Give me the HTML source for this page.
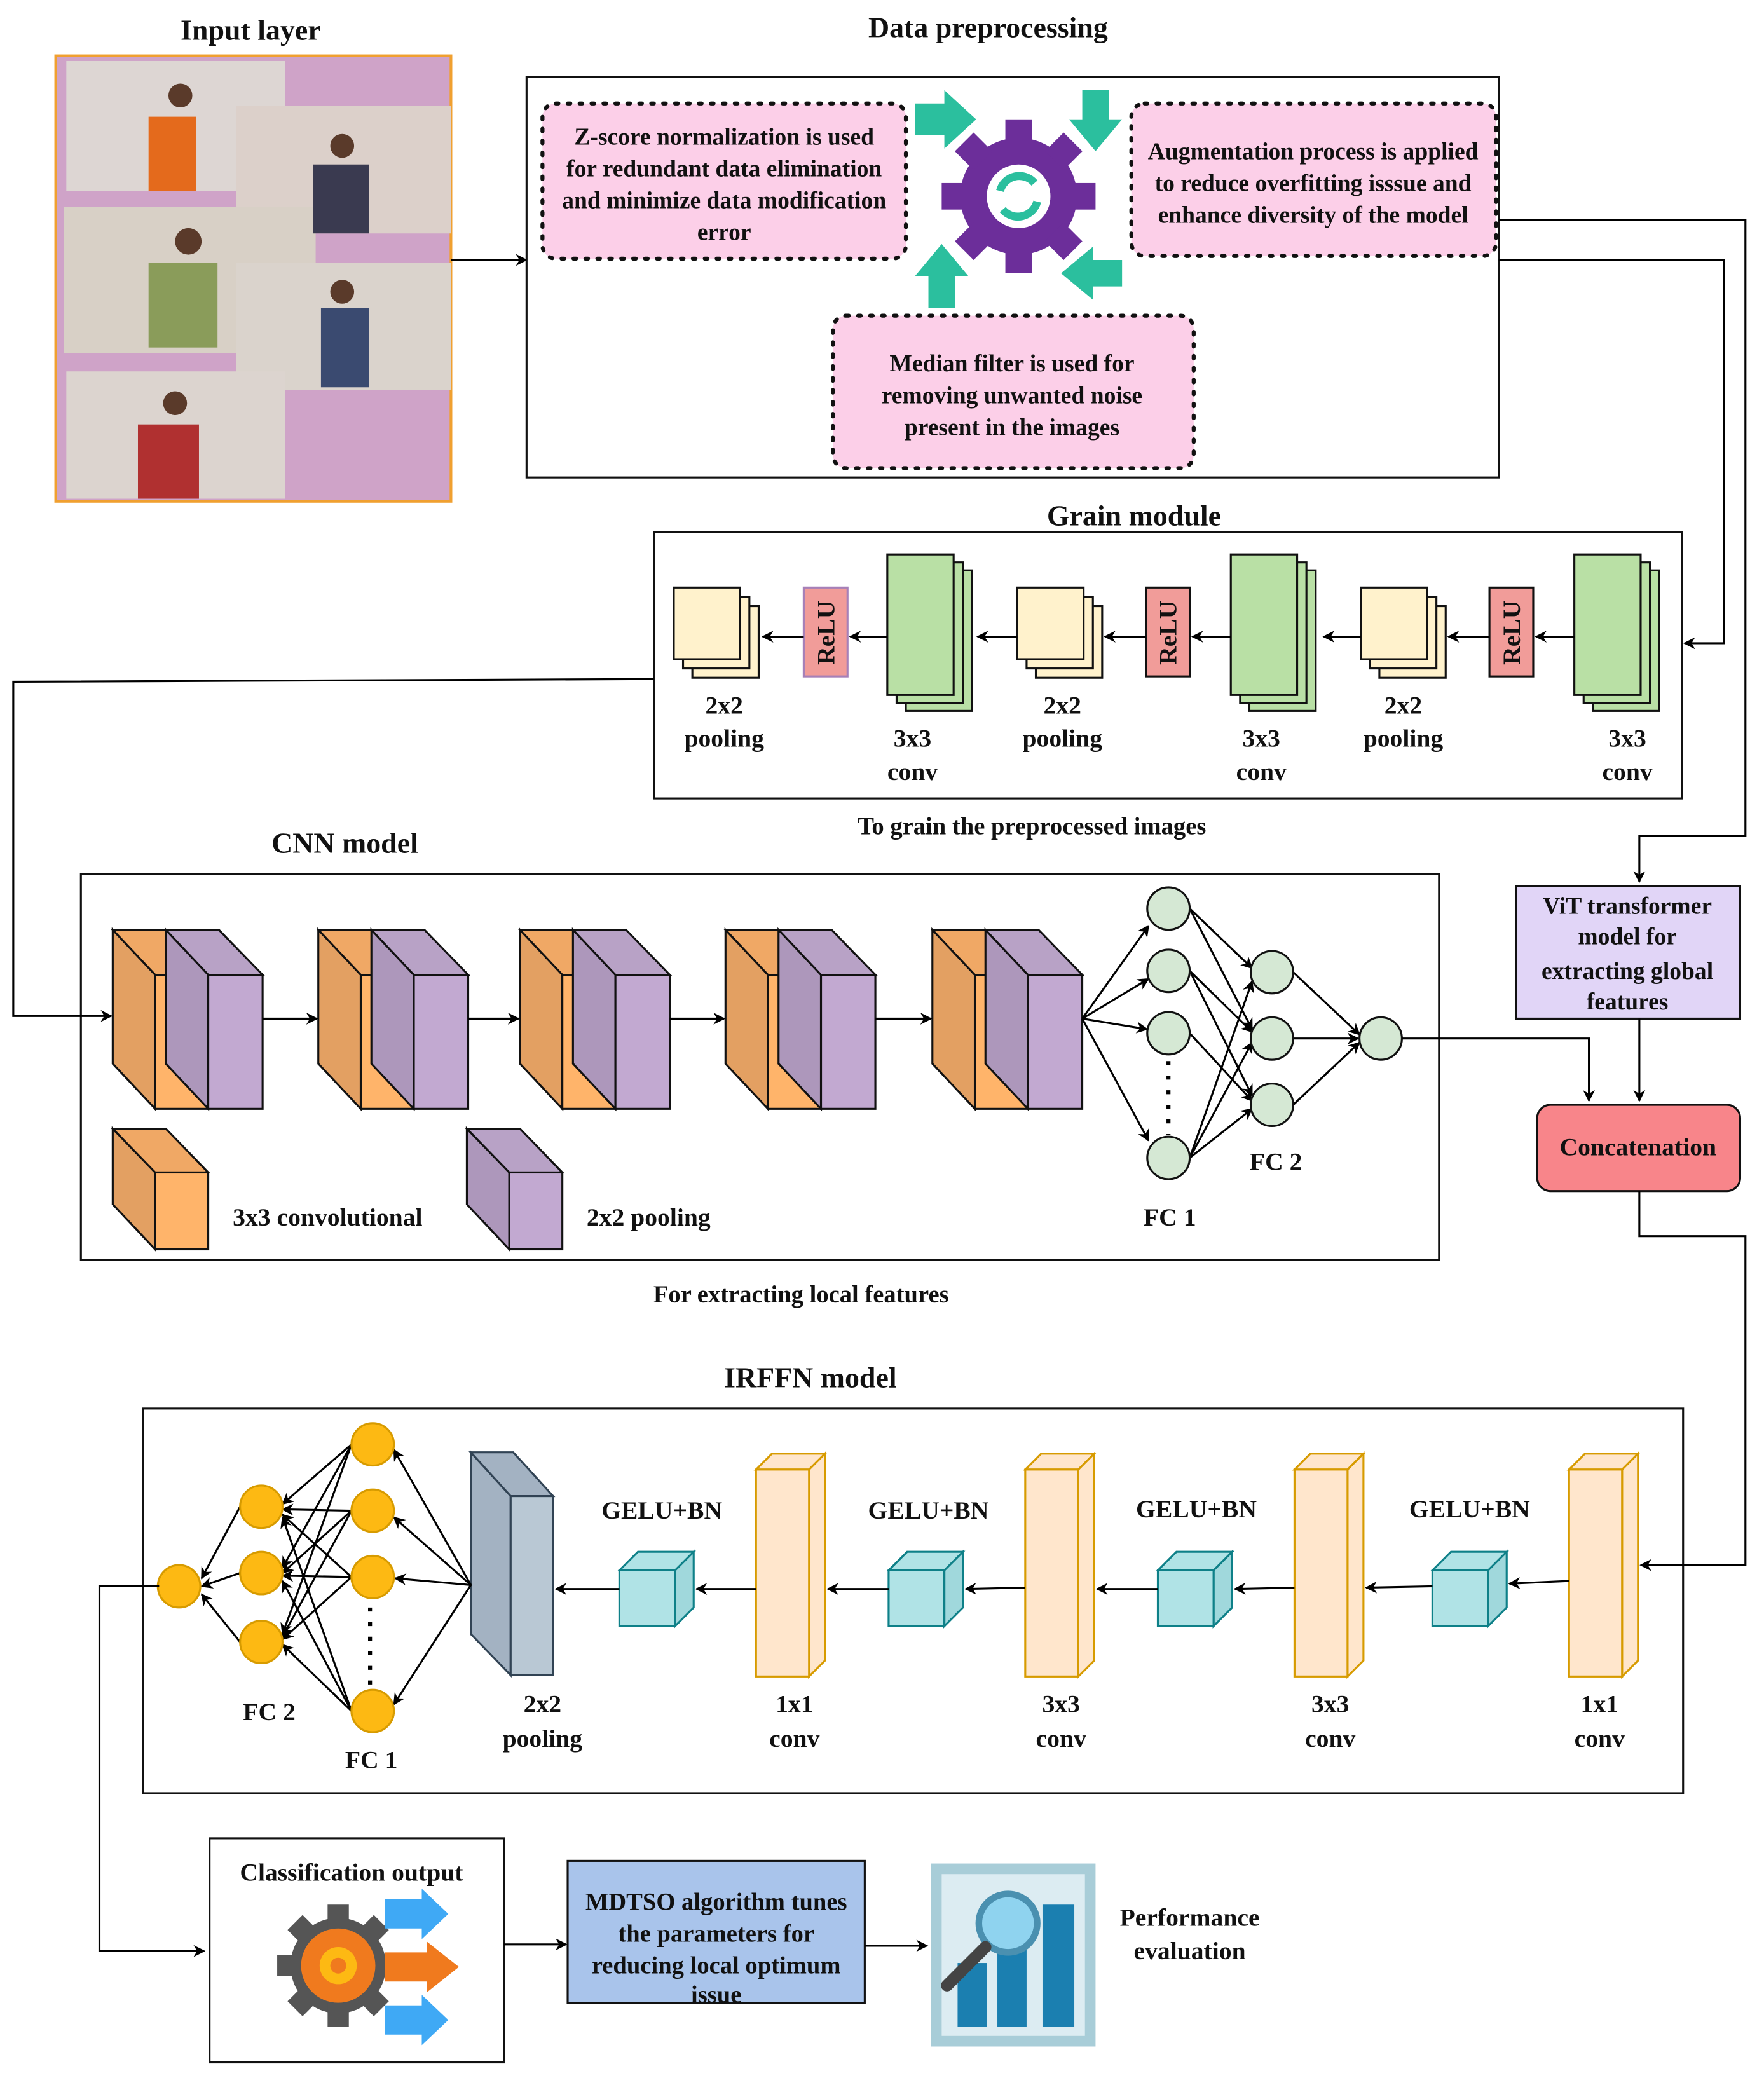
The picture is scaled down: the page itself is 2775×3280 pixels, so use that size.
<!DOCTYPE html>
<html><head><meta charset="utf-8"><style>
html,body{margin:0;padding:0;background:#fff}
svg{display:block}
text{font-family:"Liberation Serif",serif;font-weight:bold;fill:#111}
</style></head><body>
<svg width="2775" height="3280" viewBox="0 0 1330 1572" preserveAspectRatio="none" xmlns="http://www.w3.org/2000/svg">
<defs>
<marker id="a" viewBox="0 0 10 10" refX="9" refY="5" markerWidth="9" markerHeight="9" orient="auto-start-reverse" markerUnits="userSpaceOnUse"><path d="M0,0 L10,5 L0,10 L3,5 z" fill="#000"/></marker>
<g id="blk">
<polygon points="0,701 32,735 32,836 0,802" fill="#e3a062" stroke="#111" stroke-width="1.5"/>
<rect x="32" y="735" width="40" height="101" fill="#ffb46a" stroke="#111" stroke-width="1.5"/>
<polygon points="0,701 40,701 72,735 32,735" fill="#f0a865" stroke="#111" stroke-width="1.5"/>
<polygon points="40,701 72,735 72,836 40,802" fill="#ad97bb" stroke="#111" stroke-width="1.5"/>
<polygon points="40,701 80,701 113,735 72,735" fill="#b8a2c6" stroke="#111" stroke-width="1.5"/>
<rect x="72" y="735" width="41" height="101" fill="#c2a9d1" stroke="#111" stroke-width="1.5"/>
</g>
<g id="grn">
<rect x="14" y="12" width="50" height="106" fill="#b9e0a5" stroke="#111" stroke-width="1.5"/>
<rect x="7" y="6" width="50" height="106" fill="#b9e0a5" stroke="#111" stroke-width="1.5"/>
<rect x="0" y="0" width="50" height="106" fill="#b9e0a5" stroke="#111" stroke-width="1.5"/>
</g>
<g id="pl">
<rect x="14" y="14" width="50" height="54" fill="#fff2cc" stroke="#111" stroke-width="1.5"/>
<rect x="7" y="7" width="50" height="54" fill="#fff2cc" stroke="#111" stroke-width="1.5"/>
<rect x="0" y="0" width="50" height="54" fill="#fff2cc" stroke="#111" stroke-width="1.5"/>
</g>
<g id="tall">
<polygon points="0,12 12,0 52,0 40,12" fill="#ffe6cc" stroke="#d79b00" stroke-width="1.5"/>
<polygon points="40,12 52,0 52,156 40,168" fill="#ffe6cc" stroke="#d79b00" stroke-width="1.5"/>
<rect x="0" y="12" width="40" height="156" fill="#ffe6cc" stroke="#d79b00" stroke-width="1.5"/>
</g>
<g id="cube">
<polygon points="0,14 14,0 56,0 42,14" fill="#b0e3e6" stroke="#0e8088" stroke-width="1.5"/>
<polygon points="42,14 56,0 56,42 42,56" fill="#a0d8dc" stroke="#0e8088" stroke-width="1.5"/>
<rect x="0" y="14" width="42" height="42" fill="#b0e3e6" stroke="#0e8088" stroke-width="1.5"/>
</g>
</defs>

<text x="189" y="30" font-size="22" text-anchor="middle">Input layer</text>
<text x="745" y="28" font-size="22" text-anchor="middle">Data preprocessing</text>

<rect x="42" y="42" width="298" height="336" fill="#cfa3c8" stroke="#f0a030" stroke-width="2"/>
<rect x="50" y="46" width="165" height="98" fill="#ddd6d3"/>
<rect x="178" y="80" width="162" height="96" fill="#dcd0ca"/>
<rect x="48" y="156" width="190" height="110" fill="#d8d0c6"/>
<rect x="178" y="198" width="162" height="96" fill="#dad3cc"/>
<rect x="50" y="280" width="165" height="96" fill="#dcd4cf"/>
<rect x="112" y="88" width="36" height="56" fill="#e46a1c"/>
<circle cx="136" cy="72" r="9" fill="#5a3a2a"/>
<rect x="236" y="124" width="42" height="52" fill="#3a3a50"/>
<circle cx="258" cy="110" r="9" fill="#5a3a2a"/>
<rect x="112" y="198" width="52" height="64" fill="#8a9c5a"/>
<circle cx="142" cy="182" r="10" fill="#5a3a2a"/>
<rect x="242" y="232" width="36" height="60" fill="#3a4a70"/>
<circle cx="258" cy="220" r="9" fill="#5a3a2a"/>
<rect x="104" y="320" width="46" height="56" fill="#b03030"/>
<circle cx="132" cy="304" r="9" fill="#5a3a2a"/>
<line x1="340" y1="196" x2="397" y2="196" stroke="#000" stroke-width="1.5" marker-end="url(#a)"/>

<rect x="397" y="58" width="733" height="302" fill="#fff" stroke="#111" stroke-width="1.5"/>
<rect x="409" y="78" width="274" height="117" rx="10" fill="#fccfe8" stroke="#111" stroke-width="3" stroke-dasharray="2,7" stroke-linecap="round"/>
<text font-size="18" text-anchor="middle"><tspan x="546" y="109">Z-score normalization is used</tspan><tspan x="546" y="133">for redundant data elimination</tspan><tspan x="546" y="157">and minimize data modification</tspan><tspan x="546" y="181">error</tspan></text>
<rect x="853" y="78" width="275" height="115" rx="10" fill="#fccfe8" stroke="#111" stroke-width="3" stroke-dasharray="2,7" stroke-linecap="round"/>
<text font-size="18" text-anchor="middle"><tspan x="990" y="120">Augmentation process is applied</tspan><tspan x="990" y="144">to reduce overfitting isssue and</tspan><tspan x="990" y="168">enhance diversity of the model</tspan></text>
<rect x="628" y="238" width="272" height="115" rx="10" fill="#fccfe8" stroke="#111" stroke-width="3" stroke-dasharray="2,7" stroke-linecap="round"/>
<text font-size="18" text-anchor="middle"><tspan x="763" y="280">Median filter is used for</tspan><tspan x="763" y="304">removing unwanted noise</tspan><tspan x="763" y="328">present in the images</tspan></text>
<g transform="translate(768,148)">
<circle r="44" fill="#6c2e9a"/>
<g fill="#6c2e9a">
<rect x="-10" y="-58" width="20" height="20"/><rect x="-10" y="38" width="20" height="20"/>
<rect x="-58" y="-10" width="20" height="20"/><rect x="38" y="-10" width="20" height="20"/>
<rect x="-10" y="-58" width="20" height="20" transform="rotate(45)"/><rect x="-10" y="38" width="20" height="20" transform="rotate(45)"/>
<rect x="-58" y="-10" width="20" height="20" transform="rotate(45)"/><rect x="38" y="-10" width="20" height="20" transform="rotate(45)"/>
</g>
<circle r="24" fill="#fff"/>
<path d="M-14,-4 A15,15 0 0 1 12,-10" stroke="#2bbf9e" stroke-width="6" fill="none"/>
<path d="M14,4 A15,15 0 0 1 -12,10" stroke="#2bbf9e" stroke-width="6" fill="none"/>
</g>
<g fill="#2bbf9e">
<polygon points="690,78 712,78 712,68 736,90 712,112 712,102 690,102"/>
<polygon points="816,68 836,68 836,90 846,90 826,114 806,90 816,90"/>
<polygon points="700,232 720,232 720,208 730,208 710,184 690,208 700,208"/>
<polygon points="846,196 846,216 824,216 824,226 800,206 824,186 824,196"/>
</g>

<polyline points="1130,166 1316,166 1316,630 1236,630 1236,665" fill="none" stroke="#000" stroke-width="1.5" marker-end="url(#a)"/>
<polyline points="1130,196 1300,196 1300,485 1270,485" fill="none" stroke="#000" stroke-width="1.5" marker-end="url(#a)"/>

<text x="855" y="396" font-size="22" text-anchor="middle">Grain module</text>
<rect x="493" y="401" width="775" height="201" fill="none" stroke="#111" stroke-width="1.5"/>
<use href="#grn" x="1187" y="418"/><use href="#grn" x="928" y="418"/><use href="#grn" x="669" y="418"/>
<use href="#pl" x="1026" y="443"/><use href="#pl" x="767" y="443"/><use href="#pl" x="508" y="443"/>
<g>
<rect x="1123" y="443" width="33" height="67" fill="#f19c99" stroke="#111" stroke-width="1.5"/>
<rect x="864" y="443" width="33" height="67" fill="#f19c99" stroke="#111" stroke-width="1.5"/>
<rect x="606" y="443" width="33" height="67" fill="#f19c99" stroke="#a680b8" stroke-width="1.5"/>
<text font-size="19" transform="translate(1146,477) rotate(-90)" text-anchor="middle">ReLU</text>
<text font-size="19" transform="translate(887,477) rotate(-90)" text-anchor="middle">ReLU</text>
<text font-size="19" transform="translate(629,477) rotate(-90)" text-anchor="middle">ReLU</text>
</g>
<g stroke="#000" stroke-width="1.5" marker-end="url(#a)">
<line x1="1187" y1="480" x2="1158" y2="480"/><line x1="1123" y1="480" x2="1092" y2="480"/>
<line x1="1026" y1="480" x2="998" y2="480"/><line x1="928" y1="480" x2="899" y2="480"/>
<line x1="864" y1="480" x2="833" y2="480"/><line x1="767" y1="480" x2="737" y2="480"/>
<line x1="669" y1="480" x2="641" y2="480"/><line x1="606" y1="480" x2="575" y2="480"/>
</g>
<g font-size="19" text-anchor="middle">
<text x="546" y="538">2x2</text><text x="546" y="563">pooling</text>
<text x="688" y="563">3x3</text><text x="688" y="588">conv</text>
<text x="801" y="538">2x2</text><text x="801" y="563">pooling</text>
<text x="951" y="563">3x3</text><text x="951" y="588">conv</text>
<text x="1058" y="538">2x2</text><text x="1058" y="563">pooling</text>
<text x="1227" y="563">3x3</text><text x="1227" y="588">conv</text>
</g>
<text x="778" y="629" font-size="18.5" text-anchor="middle">To grain the preprocessed images</text>

<text x="260" y="643" font-size="22" text-anchor="middle">CNN model</text>
<rect x="61" y="659" width="1024" height="291" fill="none" stroke="#111" stroke-width="1.5"/>
<polyline points="493,512 10,514 10,766 84,766" fill="none" stroke="#000" stroke-width="1.5" marker-end="url(#a)"/>
<use href="#blk" x="85"/><use href="#blk" x="240"/><use href="#blk" x="392"/><use href="#blk" x="547"/><use href="#blk" x="703"/>
<g stroke="#000" stroke-width="1.5" marker-end="url(#a)">
<line x1="198" y1="768" x2="239" y2="768"/><line x1="353" y1="768" x2="391" y2="768"/>
<line x1="505" y1="768" x2="546" y2="768"/><line x1="660" y1="768" x2="702" y2="768"/>
<line x1="816" y1="768" x2="866" y2="698"/><line x1="816" y1="768" x2="866" y2="738"/>
<line x1="816" y1="768" x2="865" y2="776"/><line x1="816" y1="768" x2="866" y2="860"/>
<line x1="897" y1="685" x2="944" y2="730"/><line x1="897" y1="685" x2="944" y2="776"/>
<line x1="897" y1="732" x2="944" y2="778"/><line x1="897" y1="732" x2="944" y2="826"/>
<line x1="897" y1="779" x2="944" y2="830"/>
<line x1="897" y1="873" x2="944" y2="740"/><line x1="897" y1="873" x2="944" y2="786"/><line x1="897" y1="873" x2="944" y2="836"/>
<line x1="975" y1="733" x2="1025" y2="780"/><line x1="975" y1="783" x2="1024" y2="783"/><line x1="975" y1="833" x2="1025" y2="786"/>
</g>
<g fill="#d5e8d4" stroke="#111" stroke-width="1.5">
<circle cx="881" cy="685" r="16"/><circle cx="881" cy="732" r="16"/><circle cx="881" cy="779" r="16"/><circle cx="881" cy="873" r="16"/>
<circle cx="959" cy="733" r="16"/><circle cx="959" cy="783" r="16"/><circle cx="959" cy="833" r="16"/>
<circle cx="1041" cy="783" r="16"/>
</g>
<line x1="881" y1="800" x2="881" y2="856" stroke="#000" stroke-width="3" stroke-dasharray="3,8"/>
<text x="962" y="882" font-size="19" text-anchor="middle">FC 2</text>
<text x="882" y="924" font-size="19" text-anchor="middle">FC 1</text>
<polygon points="85,851 117,884 117,942 85,908" fill="#e3a062" stroke="#111" stroke-width="1.5"/>
<polygon points="85,851 125,851 157,884 117,884" fill="#f0a865" stroke="#111" stroke-width="1.5"/>
<rect x="117" y="884" width="40" height="58" fill="#ffb46a" stroke="#111" stroke-width="1.5"/>
<polygon points="352,851 384,884 384,942 352,908" fill="#ad97bb" stroke="#111" stroke-width="1.5"/>
<polygon points="352,851 392,851 424,884 384,884" fill="#b8a2c6" stroke="#111" stroke-width="1.5"/>
<rect x="384" y="884" width="40" height="58" fill="#c2a9d1" stroke="#111" stroke-width="1.5"/>
<text x="247" y="924" font-size="19" text-anchor="middle">3x3 convolutional</text>
<text x="489" y="924" font-size="19" text-anchor="middle">2x2 pooling</text>
<text x="604" y="982" font-size="18.5" text-anchor="middle">For extracting local features</text>

<polyline points="1057,783 1198,783 1198,830" fill="none" stroke="#000" stroke-width="1.5" marker-end="url(#a)"/>
<rect x="1143" y="668" width="169" height="100" fill="#e1d5f7" stroke="#111" stroke-width="1.5"/>
<text font-size="18" text-anchor="middle"><tspan x="1227" y="689">ViT transformer</tspan><tspan x="1227" y="712">model for</tspan><tspan x="1227" y="738">extracting global</tspan><tspan x="1227" y="761">features</tspan></text>
<line x1="1236" y1="768" x2="1236" y2="830" stroke="#000" stroke-width="1.5" marker-end="url(#a)"/>
<rect x="1159" y="833" width="153" height="65" rx="10" fill="#f8858a" stroke="#111" stroke-width="1.5"/>
<text x="1235" y="871" font-size="19" text-anchor="middle">Concatenation</text>

<text x="611" y="1046" font-size="22" text-anchor="middle">IRFFN model</text>
<rect x="108" y="1062" width="1161" height="290" fill="none" stroke="#111" stroke-width="1.5"/>
<polyline points="1236,898 1236,932 1316,932 1316,1180 1237,1180" fill="none" stroke="#000" stroke-width="1.5" marker-end="url(#a)"/>
<use href="#tall" x="1183" y="1096"/><use href="#tall" x="976" y="1096"/><use href="#tall" x="773" y="1096"/><use href="#tall" x="570" y="1096"/>
<use href="#cube" x="1080" y="1170"/><use href="#cube" x="873" y="1170"/><use href="#cube" x="670" y="1170"/><use href="#cube" x="467" y="1170"/>
<polygon points="355,1095 385,1128 385,1263 355,1232" fill="#a3b2c2" stroke="#314354" stroke-width="1.5"/>
<polygon points="355,1095 387,1095 417,1128 385,1128" fill="#a3b2c2" stroke="#314354" stroke-width="1.5"/>
<rect x="385" y="1128" width="32" height="135" fill="#b9c8d4" stroke="#314354" stroke-width="1.5"/>
<g stroke="#000" stroke-width="1.5" marker-end="url(#a)">
<line x1="1183" y1="1192" x2="1138" y2="1194"/><line x1="1080" y1="1196" x2="1030" y2="1197"/>
<line x1="976" y1="1197" x2="931" y2="1198"/><line x1="873" y1="1198" x2="827" y2="1198"/>
<line x1="773" y1="1197" x2="728" y2="1198"/><line x1="670" y1="1198" x2="624" y2="1198"/>
<line x1="570" y1="1198" x2="525" y2="1198"/><line x1="467" y1="1198" x2="419" y2="1198"/>
<line x1="355" y1="1195" x2="297" y2="1093"/><line x1="355" y1="1195" x2="297" y2="1144"/>
<line x1="355" y1="1195" x2="298" y2="1190"/><line x1="355" y1="1195" x2="297" y2="1285"/>
<line x1="265" y1="1089" x2="213" y2="1134"/><line x1="265" y1="1089" x2="213" y2="1182"/><line x1="265" y1="1089" x2="213" y2="1232"/>
<line x1="265" y1="1139" x2="213" y2="1138"/><line x1="265" y1="1139" x2="213" y2="1186"/><line x1="265" y1="1139" x2="213" y2="1234"/>
<line x1="265" y1="1189" x2="213" y2="1142"/><line x1="265" y1="1189" x2="213" y2="1188"/><line x1="265" y1="1189" x2="213" y2="1236"/>
<line x1="265" y1="1290" x2="213" y2="1144"/><line x1="265" y1="1290" x2="213" y2="1192"/><line x1="265" y1="1290" x2="213" y2="1240"/>
<line x1="181" y1="1136" x2="152" y2="1190"/><line x1="181" y1="1186" x2="152" y2="1196"/><line x1="181" y1="1238" x2="152" y2="1202"/>
</g>
<g fill="#fdb913" stroke="#d79b00" stroke-width="1.5">
<circle cx="281" cy="1089" r="16"/><circle cx="281" cy="1139" r="16"/><circle cx="281" cy="1189" r="16"/><circle cx="281" cy="1290" r="16"/>
<circle cx="197" cy="1136" r="16"/><circle cx="197" cy="1186" r="16"/><circle cx="197" cy="1238" r="16"/>
<circle cx="135" cy="1196" r="16"/>
</g>
<line x1="279" y1="1212" x2="279" y2="1270" stroke="#000" stroke-width="3" stroke-dasharray="3,8"/>
<g font-size="19" text-anchor="middle">
<text x="1108" y="1144">GELU+BN</text><text x="902" y="1144">GELU+BN</text><text x="700" y="1145">GELU+BN</text><text x="499" y="1145">GELU+BN</text>
<text x="1206" y="1291">1x1</text><text x="1206" y="1317">conv</text>
<text x="1003" y="1291">3x3</text><text x="1003" y="1317">conv</text>
<text x="800" y="1291">3x3</text><text x="800" y="1317">conv</text>
<text x="599" y="1291">1x1</text><text x="599" y="1317">conv</text>
<text x="409" y="1291">2x2</text><text x="409" y="1317">pooling</text>
<text x="203" y="1297">FC 2</text><text x="280" y="1333">FC 1</text>
</g>
<polyline points="120,1196 75,1196 75,1471 154,1471" fill="none" stroke="#000" stroke-width="1.5" marker-end="url(#a)"/>

<rect x="158" y="1386" width="222" height="169" fill="#fff" stroke="#111" stroke-width="1.5"/>
<text x="265" y="1418" font-size="19" text-anchor="middle">Classification output</text>
<g transform="translate(255,1482)">
<circle r="36" fill="#555"/>
<g fill="#555"><rect x="-8" y="-46" width="16" height="92"/><rect x="-46" y="-8" width="92" height="16"/><rect x="-8" y="-46" width="16" height="92" transform="rotate(45)"/><rect x="-46" y="-8" width="92" height="16" transform="rotate(45)"/></g>
<circle r="28" fill="#f07a1e"/><circle r="14" fill="#fdb913"/><circle r="6" fill="#f07a1e"/>
</g>
<g>
<polygon points="290,1432 318,1432 318,1424 338,1443 318,1462 318,1454 290,1454" fill="#3fa9f5"/>
<polygon points="290,1472 322,1472 322,1464 346,1483 322,1502 322,1494 290,1494" fill="#f07a1e"/>
<polygon points="290,1512 318,1512 318,1504 338,1523 318,1542 318,1534 290,1534" fill="#3fa9f5"/>
</g>
<line x1="380" y1="1466" x2="427" y2="1466" stroke="#000" stroke-width="1.5" marker-end="url(#a)"/>
<rect x="428" y="1403" width="224" height="107" fill="#a9c4eb" stroke="#111" stroke-width="1.5"/>
<text font-size="18.5" text-anchor="middle"><tspan x="540" y="1440">MDTSO algorithm tunes</tspan><tspan x="540" y="1464">the parameters for</tspan><tspan x="540" y="1488">reducing local optimum</tspan><tspan x="540" y="1510">issue</tspan></text>
<line x1="652" y1="1467" x2="699" y2="1467" stroke="#000" stroke-width="1.5" marker-end="url(#a)"/>
<rect x="702" y="1405" width="124" height="138" fill="#a8cdd8"/>
<rect x="710" y="1413" width="108" height="122" fill="#dcecf2"/>
<rect x="722" y="1480" width="22" height="48" fill="#1b7fb0"/>
<rect x="752" y="1462" width="22" height="66" fill="#1b7fb0"/>
<rect x="786" y="1436" width="24" height="92" fill="#1b7fb0"/>
<circle cx="760" cy="1450" r="22" fill="#8fd3ef" stroke="#4a90b0" stroke-width="5"/>
<line x1="743" y1="1468" x2="714" y2="1497" stroke="#444" stroke-width="9" stroke-linecap="round"/>
<text font-size="19" text-anchor="middle"><tspan x="897" y="1452">Performance</tspan><tspan x="897" y="1477">evaluation</tspan></text>
</svg>
</body></html>
